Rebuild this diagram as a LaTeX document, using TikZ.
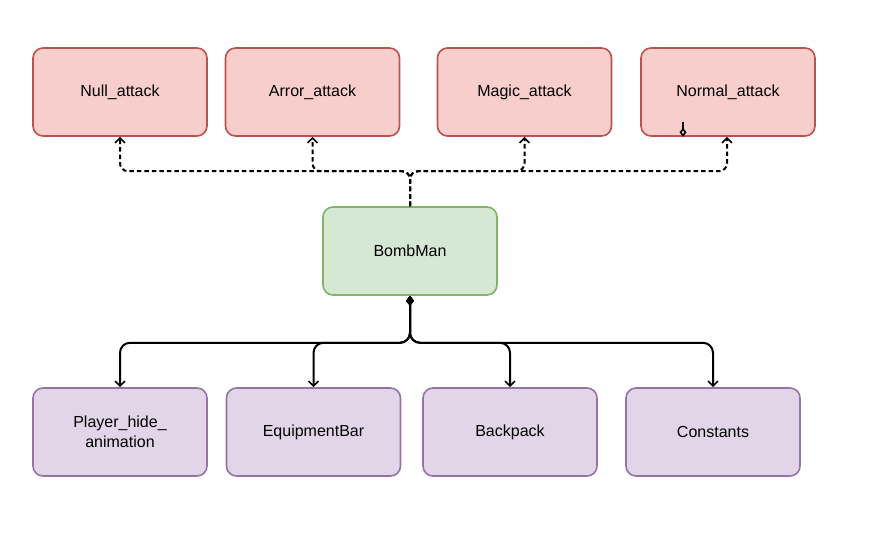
\documentclass[tikz,border=0pt]{standalone}
\usepackage{fontspec}
\setmainfont{Liberation Sans}
\usetikzlibrary{arrows.meta}
\definecolor{attackfill}{HTML}{F8CECC}
\definecolor{attackline}{HTML}{B85450}
\definecolor{mainfill}{HTML}{D5E8D4}
\definecolor{mainline}{HTML}{82B366}
\definecolor{partfill}{HTML}{E1D5E7}
\definecolor{partline}{HTML}{9673A6}
\tikzstyle{attack} = [rectangle, rounded corners=10pt, minimum width=174pt, minimum height=88pt, text centered, line width=1.6pt, draw=attackline, fill=attackfill]
\tikzstyle{mainclass} = [rectangle, rounded corners=10pt, minimum width=174pt, minimum height=88pt, text centered, line width=1.6pt, draw=mainline, fill=mainfill]
\tikzstyle{part} = [rectangle, rounded corners=10pt, minimum width=174pt, minimum height=88pt, text centered, align=center, line width=1.6pt, draw=partline, fill=partfill]
\tikzstyle{uses} = [line width=2pt, dash pattern=on 4.5pt off 3pt, rounded corners=8pt, -{Straight Barb[length=5pt,width=10pt,line width=1.6pt]}]
\tikzstyle{owns} = [line width=2pt, rounded corners=10pt, {Diamond[length=10pt,width=8pt]}-{Straight Barb[length=5pt,width=10pt,line width=1.6pt]}]

\begin{document}
\begin{tikzpicture}[node distance=159pt, font=\fontsize{16}{20}\selectfont]
\useasboundingbox (0,0) rectangle (877pt,-553pt);

% Clases
\node (bomb) [mainclass] at (410pt,-251pt) {BombMan};
\node (null) [attack, above of=bomb, xshift=-290pt] {Null\_attack};
\node (arror) [attack, above of=bomb, xshift=-97.5pt] {Arror\_attack};
\node (magic) [attack, above of=bomb, xshift=114.5pt] {Magic\_attack};
\node (normal) [attack, above of=bomb, xshift=318pt] {Normal\_attack};
\node (player) [part, below of=bomb, xshift=-290pt, yshift=-22pt] {Player\_hide\_\\animation};
\node (equip) [part, below of=bomb, xshift=-96.5pt, yshift=-22pt] {EquipmentBar};
\node (backpack) [part, below of=bomb, xshift=100pt, yshift=-22pt] {Backpack};
\node (constants) [part, below of=bomb, xshift=303pt, yshift=-22pt] {Constants};
\coordinate (mark) at (683pt,-122pt);

% Flechas
\draw [uses] (bomb.north) -- ++(0,35pt) -| (null.south);
\draw [uses] (bomb.north) -- ++(0,35pt) -| (arror.south);
\draw [uses] (bomb.north) -- ++(0,35pt) -| (magic.south);
\draw [uses] (bomb.north) -- ++(0,35pt) -| ([xshift=-1pt]normal.south);
\draw [owns] (bomb.south) -- ++(0,-47pt) -| (player.north);
\draw [owns] (bomb.south) -- ++(0,-47pt) -| (equip.north);
\draw [owns] (bomb.south) -- ++(0,-47pt) -| (backpack.north);
\draw [owns] (bomb.south) -- ++(0,-47pt) -| (constants.north);
\draw [line width=1.6pt, -{Diamond[open,length=9pt,width=7pt]}] (mark) -- (mark |- normal.south);

\end{tikzpicture}
\end{document}
